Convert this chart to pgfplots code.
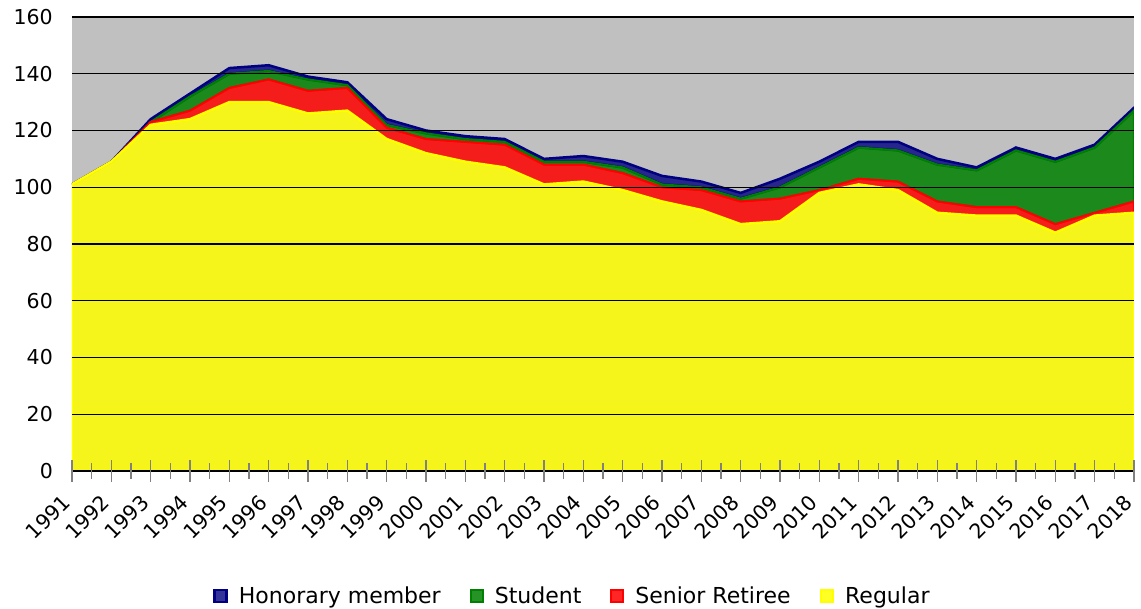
\documentclass[border=0pt]{standalone}
\usepackage{pgfplots}
\usepackage{pgfplotstable}
\pgfplotsset{compat=1.18}
\usepackage{fontspec}
\setmainfont{DejaVu Sans}
\definecolor{bggray}{RGB}{192,192,192}
\definecolor{navyc}{RGB}{0,0,128}
\definecolor{greenc}{RGB}{0,128,0}
\definecolor{redc}{RGB}{255,0,0}
\definecolor{yellowc}{RGB}{255,255,0}
\definecolor{tickgray}{RGB}{128,128,128}
\pgfplotstableread{
year R S St H
0 101 0 0 0
1 109 0 0 0
2 122 1 0 1
3 124 3 5 1
4 130 5 5 2
5 130 8 3 2
6 126 8 4 1
7 127 8 1 1
8 117 4 1 2
9 112 5 2 1
10 109 7 1 1
11 107 8 1 1
12 101 7 1 1
13 102 6 1 2
14 99 6 2 2
15 95 5 1 3
16 92 7 1 2
17 87 8 1 2
18 88 8 4 3
19 98 1 8 2
20 101 2 11 2
21 99 3 11 3
22 91 4 13 2
23 90 3 13 1
24 90 3 20 1
25 84 3 22 1
26 90 1 23 1
27 91 4 32 1
}\datatable
\begin{document}
\begin{tikzpicture}
\begin{axis}[
  at={(0pt,0pt)}, anchor=south west,
  scale only axis, width=1062pt, height=454pt,
  xmin=0, xmax=27, ymin=0, ymax=160,
  stack plots=y, area style,
  axis background/.style={fill=bggray},
  axis line style={draw=none},
  ymajorgrids, grid style={black, line width=1.3pt},
  ytick={0,20,...,160},
  ytick style={draw=none},
  ytick pos=left, xtick pos=bottom,
  xtick={0,...,27},
  xticklabels={1991,1992,1993,1994,1995,1996,1997,1998,1999,2000,2001,2002,2003,2004,2005,2006,2007,2008,2009,2010,2011,2012,2013,2014,2015,2016,2017,2018},
  minor x tick num=1,
  tick align=center,
  x tick style={tickgray, line width=1.5pt},
  major tick length=22pt, minor tick length=16pt,
  /pgf/number format/assume math mode=true,
  tick label style={font=\fontsize{20.5}{24}\selectfont},
  yticklabel style={anchor=east, inner sep=0pt, xshift=-8pt},
  xticklabel style={xshift=-11pt, yshift=-11pt, rotate=45, anchor=north east, inner sep=0pt},
  legend columns=-1,
  reverse legend,
  legend style={draw=none, fill=none, at={(0.4703,-0.275)}, anchor=center,
    font=\fontsize{22}{26}\selectfont,
    nodes={inner xsep=0pt},
    /tikz/every odd column/.append style={column sep=11pt},
    /tikz/every even column/.append style={column sep=29pt}},
  legend image code/.code={\fill[#1] (0pt,-6pt) rectangle (12pt,6pt); \draw[#1, fill=none, line width=0.6pt] (0pt,-6pt) rectangle (12pt,6pt);},
]
\addplot[fill=yellowc, fill opacity=0.85, draw=yellowc, line width=2.5pt] table[x=year, y=R] {\datatable} \closedcycle;
\addplot[fill=redc, fill opacity=0.85, draw=redc, line width=2pt] table[x=year, y=S] {\datatable} \closedcycle;
\addplot[fill=greenc, fill opacity=0.85, draw=greenc, line width=2pt] table[x=year, y=St] {\datatable} \closedcycle;
\addplot[fill=navyc, fill opacity=0.8, draw=navyc, line width=2.5pt] table[x=year, y=H] {\datatable} \closedcycle;
\legend{Regular, Senior Retiree, Student, Honorary member}
\end{axis}
\pgfresetboundingbox
\path[use as bounding box] (-72pt,-138pt) rectangle (1069pt,471pt);
\end{tikzpicture}
\end{document}
